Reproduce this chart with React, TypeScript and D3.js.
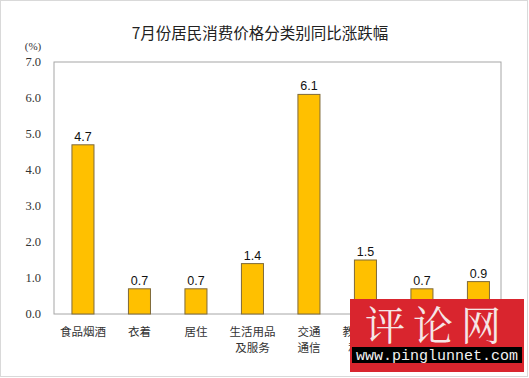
import React from "react";
import * as d3 from "d3";

const categories = [
  ["食品烟酒"],
  ["衣着"],
  ["居住"],
  ["生活用品", "及服务"],
  ["交通", "通信"],
  ["教育文化", "和娱乐"],
  ["医疗", "保健"],
  ["其他用品", "和服务"],
];
const values = [4.7, 0.7, 0.7, 1.4, 6.1, 1.5, 0.7, 0.9];
const yTicks = [0, 1, 2, 3, 4, 5, 6, 7];
const title = "7月份居民消费价格分类别同比涨跌幅";

export default function App() {
  const W = 529, H = 378;
  const left = 54, right = 501, top = 62, bottom = 314;
  const x = d3.scaleBand<number>().domain(d3.range(values.length)).range([55, 506.4]).paddingInner(0.61).paddingOuter(0.3);
  const y = d3.scaleLinear().domain([0, 7]).range([bottom, top]);
  const sans = "'Liberation Sans', Arial, 'Noto Sans CJK SC', sans-serif";
  const cjk = "'Noto Sans CJK SC', sans-serif";
  const serif = "'Liberation Serif', 'Times New Roman', serif";
  return (
    <svg width={W} height={H} style={{ position: "absolute", left: 0, top: 0 }}>
      <rect x={0.5} y={0.5} width={W - 2} height={H - 2} fill="#fff" stroke="#d9d9d9" />
      <text x={260} y={39} textAnchor="middle" fontFamily={cjk} fontSize={15.5} fill="#222">{title}</text>
      <text x={33} y={50} textAnchor="middle" fontFamily={serif} fontSize={11} fill="#333">(%)</text>
      {yTicks.map((t) => (
        <text key={t} x={41} y={y(t) + 4} textAnchor="end" fontFamily={serif} fontSize={12.5} fill="#333">{t.toFixed(1)}</text>
      ))}
      <rect x={left} y={top} width={right - left} height={bottom - top} fill="none" stroke="#a6a6a6" />
      {values.map((v, i) => (
        <g key={i}>
          <rect x={x(i)!} y={y(v)} width={x.bandwidth()} height={bottom - y(v)} fill="#FFC000" stroke="#7f6a3a" strokeWidth={1} />
          <text x={x(i)! + x.bandwidth() / 2} y={y(v) - 4} textAnchor="middle" fontFamily={sans} fontSize={12.5} fill="#111">{v.toFixed(1)}</text>
        </g>
      ))}
      {categories.map((lines, i) => (
        <text key={i} textAnchor="middle" fontFamily={cjk} fontSize={11.5} fill="#333">
          {lines.map((l, j) => (
            <tspan key={j} x={x(i)! + x.bandwidth() / 2} y={336 + j * 15.5}>{l}</tspan>
          ))}
        </text>
      ))}
      <g>
        <rect x={350} y={299} width={174} height={73} fill="#d9252e" />
        <rect x={352} y={347} width={170} height={16} fill="#000" />
        <text x={437} y={340} textAnchor="middle" fontFamily="'Noto Serif CJK SC', 'Noto Sans CJK SC', serif" fontSize={40} fill="#f5e6e6" letterSpacing={8}>评论网</text>
        <text x={437} y={360} textAnchor="middle" fontFamily="'Liberation Mono', 'DejaVu Sans Mono', monospace" fontSize={15} fill="#f2f2f2">www.pinglunnet.com</text>
      </g>
    </svg>
  );
}
